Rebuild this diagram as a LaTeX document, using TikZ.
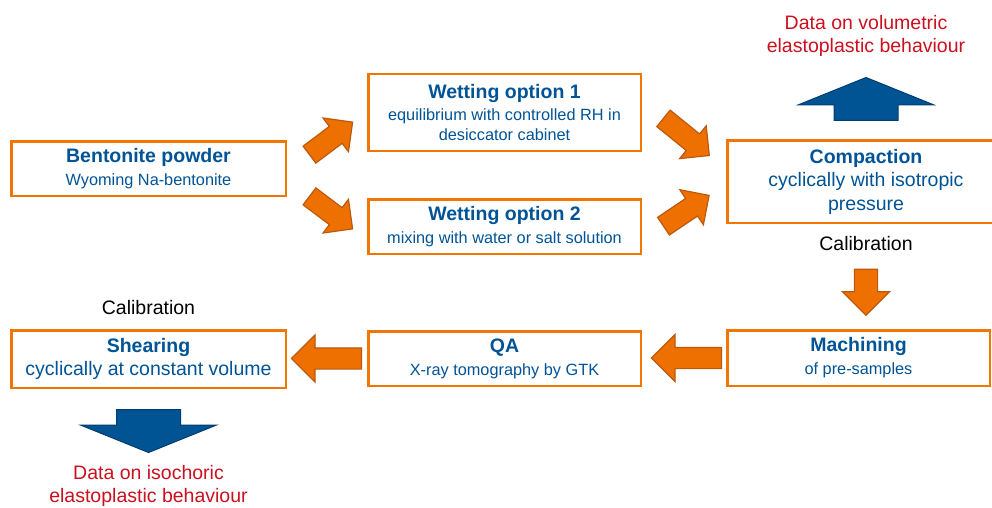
\documentclass[tikz,border=0pt]{standalone}
\usepackage{fontspec}
\setmainfont{Liberation Sans}
\usepackage{xcolor}
\usepackage{tikz}
\usetikzlibrary{
    shapes,
    shapes.arrows,
    positioning,
    calc
}
\definecolor{boxorange}{RGB}{240,118,0}
\definecolor{arrowfill}{RGB}{237,112,0}
\definecolor{arrowline}{RGB}{190,88,12}
\definecolor{textblue}{RGB}{0,84,150}
\definecolor{bigblue}{RGB}{0,84,147}
\definecolor{bigblueline}{RGB}{0,60,112}
\definecolor{datared}{RGB}{204,16,30}
\newcommand{\boxhead}{\fontsize{19.5}{23.5}\selectfont\bfseries}
\newcommand{\boxlarge}{\fontsize{19.5}{23.5}\selectfont}
\newcommand{\boxsmall}{\fontsize{16.3}{20}\selectfont}
\tikzset{
  stage/.style = {
      draw=boxorange,
      line width=2.5pt,
      rectangle,
      fill=white,
      align=center,
      text=textblue,
      font=\boxsmall,
      inner sep=2pt
  },
  bigstage/.style = {
      stage,
      font=\boxlarge
  },
  flow/.style = {
      single arrow,
      draw=arrowline,
      fill=arrowfill,
      line width=1.2pt,
      single arrow head extend=13pt,
      single arrow tip angle=90,
      inner sep=0pt,
      inner ysep=10pt,
      anchor=tail
  },
  result/.style = {
      single arrow,
      draw=bigblueline,
      fill=bigblue,
      line width=1pt,
      single arrow head extend=35.5pt,
      single arrow tip angle=136,
      inner sep=0pt,
      inner ysep=31.5pt,
      minimum height=43pt,
      anchor=tail
  },
  note/.style = {
      font=\boxlarge,
      align=center,
      inner sep=0pt
  },
  data/.style = {
      note,
      text=datared
  }
}

\begin{document}
\begin{tikzpicture}[x=1pt, y=1pt]
        \useasboundingbox (0,0) rectangle (992,507);
        \clip (0,0) rectangle (992,507);
        % Stages
        \node[stage, minimum width=274.5pt, minimum height=54.5pt] (bent) at (148.5,338.5)
            {{\boxhead Bentonite powder}\\[3pt]Wyoming Na-bentonite};
        \node[stage, minimum width=272.5pt, minimum height=76.5pt] (w1) at (504.5,394.5)
            {{\boxhead Wetting option 1}\\[2pt]equilibrium with controlled RH in\\desiccator cabinet};
        \node[stage, minimum width=272.5pt, minimum height=54.5pt] (w2) at (504.5,280.5)
            {{\boxhead Wetting option 2}\\[3pt]mixing with water or salt solution};
        \node[bigstage, minimum width=277.5pt, minimum height=82.5pt] (comp) at (866,325.5)
            {{\boxhead Compaction}\\cyclically with isotropic\\pressure};
        \node[stage, minimum width=262.5pt, minimum height=55.5pt] (mach) at (858.5,149)
            {{\boxhead Machining}\\[3pt]of pre-samples};
        \node[stage, minimum width=272.5pt, minimum height=54.5pt] (qa) at (504.5,148.5)
            {{\boxhead QA}\\[3pt]X-ray tomography by GTK};
        \node[bigstage, minimum width=274.5pt, minimum height=57.5pt] (shear) at (148.5,148)
            {{\boxhead Shearing}\\cyclically at constant volume};
        % Labels
        \node[note, below=12pt of comp] (calib1) {Calibration};
        \node[note, above=14pt of shear] (calib2) {Calibration};
        % Arrows
        \node[flow, single arrow head extend=10.5pt, minimum height=54pt, rotate=37] (a1)
            at ($(bent.east)+(22,13.5)$) {};
        \node[flow, single arrow head extend=10.5pt, minimum height=54pt, rotate=-37] (a2)
            at ($(bent.east)+(22,-27.5)$) {};
        \node[flow, single arrow head extend=10.5pt, minimum height=59pt, rotate=-39] (a3)
            at ($(w1.east)+(21,-5.5)$) {};
        \node[flow, single arrow head extend=10.5pt, minimum height=55pt, rotate=34] (a4)
            at ($(w2.east)+(21,0)$) {};
        \node[flow, inner ysep=11pt, single arrow head extend=12pt, minimum height=46pt, rotate=-90] (a5)
            at ($(calib1.south)-(0,18)$) {};
        \node[flow, minimum height=70pt, rotate=180] (a6)
            at ($(mach.west)-(4,0)$) {};
        \node[flow, minimum height=70pt, rotate=180] (a7)
            at ($(qa.west)-(5,0)$) {};
        % Results
        \node[result, rotate=90] (up) at ($(comp.north)+(0,18)$) {};
        \node[result, rotate=-90] (dn) at ($(shear.south)-(0,20)$) {};
        \node[data, above=20pt of up.tip] (vol) {Data on volumetric\\elastoplastic behaviour};
        \node[data, below=12pt of dn.tip] (iso) {Data on isochoric\\elastoplastic behaviour};
    \end{tikzpicture}
\end{document}
